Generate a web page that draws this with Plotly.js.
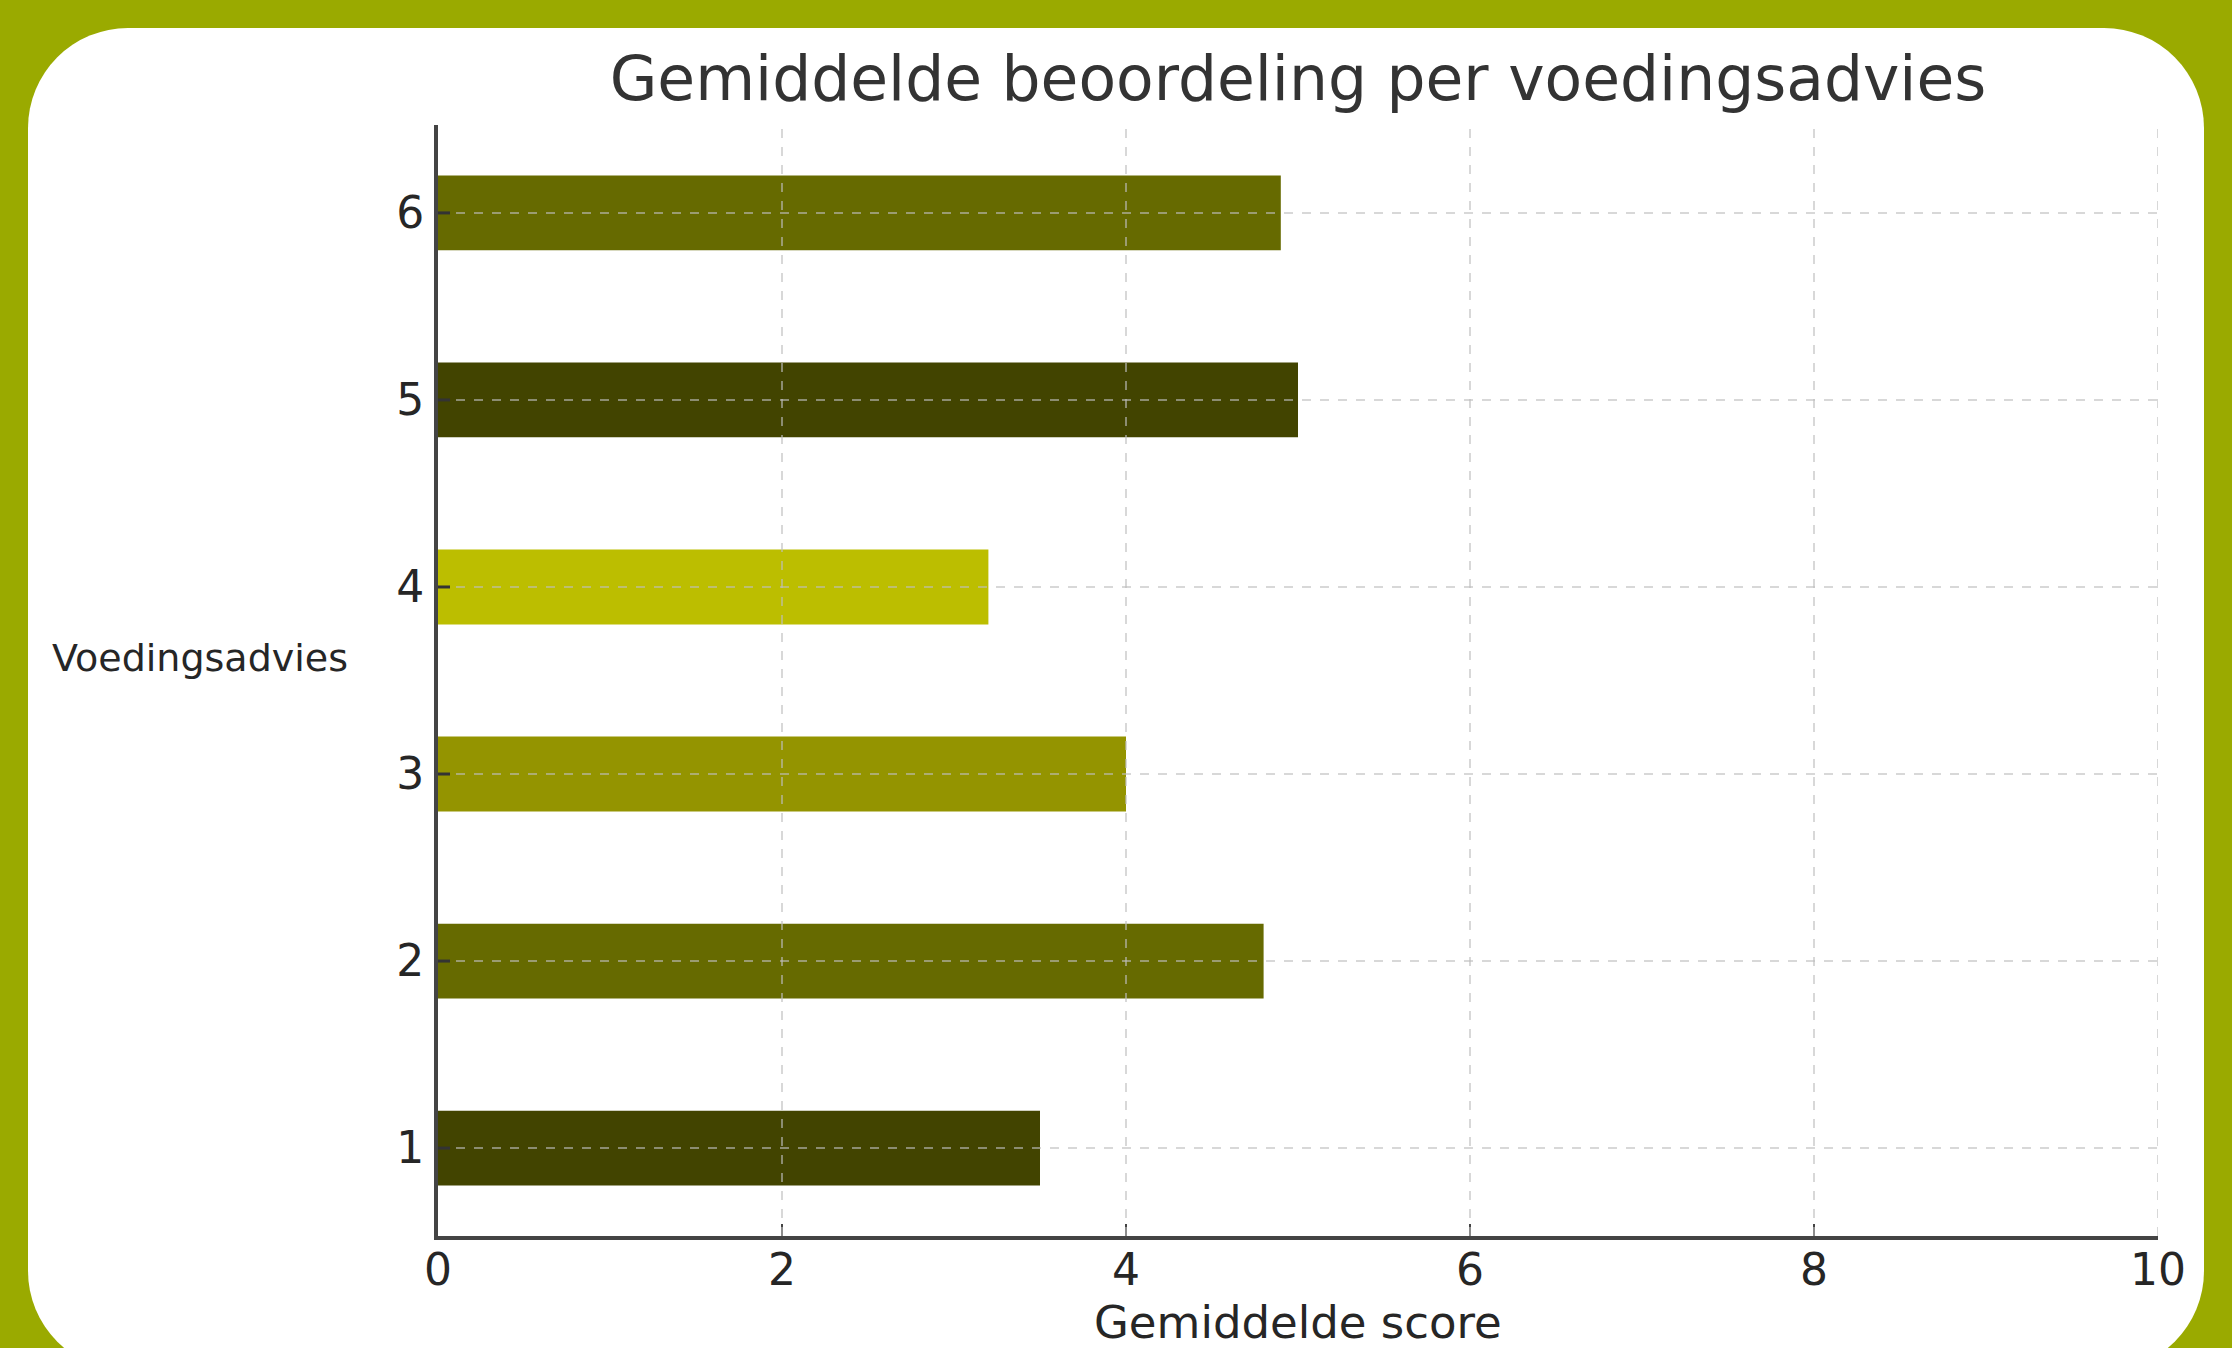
<!DOCTYPE html>
<html>
<head>
<meta charset="utf-8">
<script src="https://cdn.plot.ly/plotly-3.0.1.min.js"></script>
<style>
  html, body { margin: 0; padding: 0; background: #9aaa00; width: 2232px; height: 1348px; overflow: hidden; }
  #card { position: absolute; left: 28px; top: 28px; width: 2176px; height: 1343px; background: #ffffff; border-radius: 100px; }
  #chart { position: absolute; left: 0; top: 0; width: 2232px; height: 1348px; }
</style>
</head>
<body>
<div id="card"></div>
<div id="chart"></div>
<script>
// Data
const categories = [1, 2, 3, 4, 5, 6];
const scores = [3.5, 4.8, 4.0, 3.2, 5.0, 4.9];
const barColors = ['#424400', '#666a00', '#949400', '#bcbe00', '#424400', '#666a00'];
const xTicks = [0, 2, 4, 6, 8, 10];
const xTickLabels = ['0', '2', '4', '6', '8', '10'];
const yTickLabels = ['1', '2', '3', '4', '5', '6'];
const titleText = 'Gemiddelde beoordeling per voedingsadvies';
const xTitle = 'Gemiddelde score';
const yTitle = 'Voedingsadvies';

const font = 'DejaVu Sans, sans-serif';
const gridColor = 'rgba(190,190,190,0.6)';

const trace = {
  type: 'bar',
  orientation: 'h',
  y: categories,
  x: scores,
  width: 0.4,
  marker: { color: barColors, line: { width: 0 } },
  hoverinfo: 'x+y'
};

const shapes = [];
xTicks.slice(1).forEach(v => shapes.push({
  type: 'line', xref: 'x', yref: 'paper', x0: v, x1: v, y0: 0, y1: 1,
  line: { color: gridColor, width: 2, dash: 'dash' }, layer: 'above'
}));
categories.forEach(v => shapes.push({
  type: 'line', xref: 'paper', yref: 'y', x0: 0, x1: 1, y0: v, y1: v,
  line: { color: gridColor, width: 2, dash: 'dash' }, layer: 'above'
}));
// small tick marks drawn above bars on the y axis
categories.forEach(v => shapes.push({
  type: 'line', xref: 'paper', yref: 'y', x0: 0, x1: 12 / 1720, y0: v, y1: v,
  line: { color: '#333333', width: 3 }, layer: 'above'
}));

const layout = {
  width: 2232, height: 1348,
  margin: { l: 438, r: 74, t: 125, b: 112 },
  paper_bgcolor: 'rgba(0,0,0,0)',
  plot_bgcolor: 'rgba(0,0,0,0)',
  showlegend: false,
  title: {
    text: titleText,
    font: { family: font, size: 61.5, color: '#333333' },
    x: 0.5, xref: 'paper', xanchor: 'center',
    y: 1 - 78 / 1348, yref: 'container', yanchor: 'middle'
  },
  xaxis: {
    range: [0, 10],
    tickvals: xTicks, ticktext: xTickLabels,
    ticks: 'inside', ticklen: 12, tickwidth: 2, tickcolor: '#444444',
    showline: true, linecolor: '#444444', linewidth: 4,
    showgrid: false, zeroline: false,
    tickfont: { family: font, size: 44, color: '#262626' },
    ticklabelstandoff: -8,
    fixedrange: true
  },
  yaxis: {
    range: [0.53, 6.47],
    tickvals: categories, ticktext: yTickLabels,
    ticks: 'inside', ticklen: 12, tickwidth: 2, tickcolor: '#333333',
    showline: true, linecolor: '#444444', linewidth: 4,
    showgrid: false, zeroline: false,
    tickfont: { family: font, size: 44, color: '#262626' },
    ticklabelstandoff: 1,
    fixedrange: true
  },
  shapes: shapes,
  annotations: [
    {
      text: yTitle, xref: 'paper', yref: 'paper',
      x: (200 - 438) / 1720, y: (1236 - 658) / 1111,
      xanchor: 'center', yanchor: 'middle', showarrow: false,
      font: { family: font, size: 38, color: '#262626' }
    },
    {
      text: xTitle, xref: 'paper', yref: 'paper',
      x: 0.5, y: (1236 - 1322) / 1111,
      xanchor: 'center', yanchor: 'middle', showarrow: false,
      font: { family: font, size: 45, color: '#262626' }
    }
  ]
};

Plotly.newPlot('chart', [trace], layout, { displayModeBar: false, staticPlot: true });
</script>
</body>
</html>
